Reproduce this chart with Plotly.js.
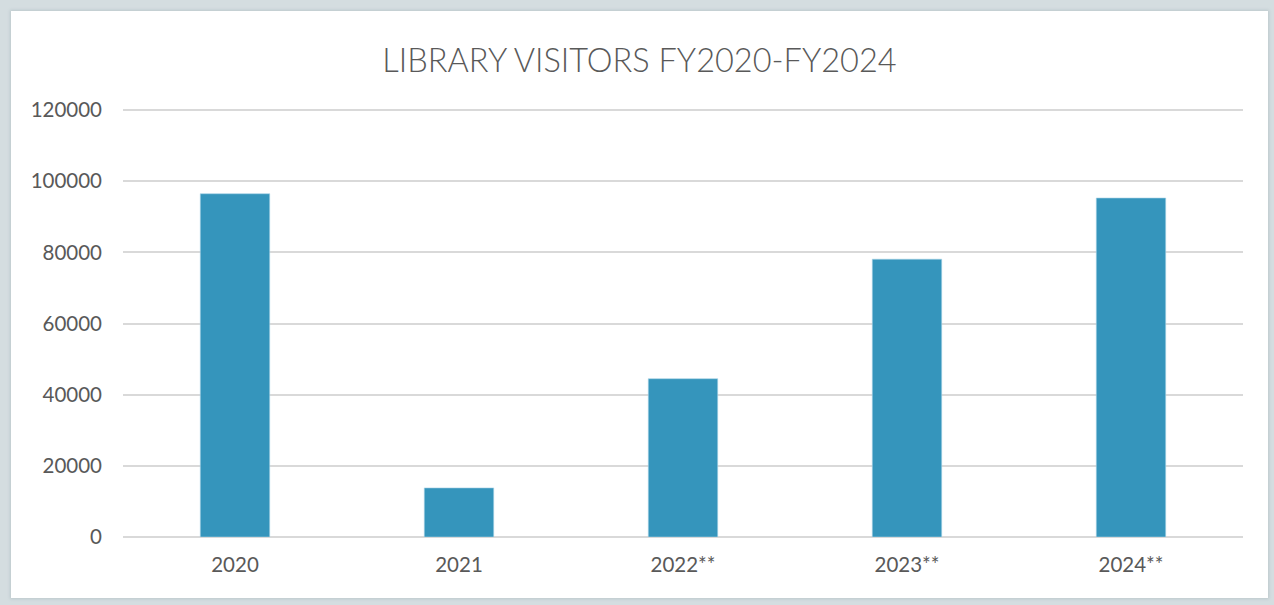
<!DOCTYPE html>
<html>
<head>
<meta charset="utf-8">
<script src="https://cdn.plot.ly/plotly-3.0.1.min.js"></script>
<style>
  body { margin: 0; }
  #frame {
    position: relative;
    width: 1274px;
    height: 605px;
    background: #d4dde0;
  }
  #chart {
    position: absolute;
    left: 11px;
    top: 11px;
    width: 1257px;
    height: 587px;
    background: #ffffff;
    box-shadow: 0 0 3px 1px #bcc8cc;
  }
</style>
</head>
<body>
<div id="frame"><div id="chart"></div></div>
<script>
var years = ['2020', '2021', '2022**', '2023**', '2024**'];
var visitors = [96500, 13800, 44500, 78100, 95300];
var yTicks = [0, 20000, 40000, 60000, 80000, 100000, 120000];

var Bars = {
    type: 'bar',
    x: years,
    y: visitors,
    marker: {
        color: '#3595bc',
        line: {color: '#a9d4e6', width: 0.6}
    },
    hoverinfo: 'x+y'
}

var layout = {
    width: 1257,
    height: 587,
    margin: {l: 112, r: 25, t: 97, b: 61},
    paper_bgcolor: '#ffffff',
    plot_bgcolor: '#ffffff',
    bargap: 0.69,
    showlegend: false,
    font: {family: 'Lato, "Open Sans", sans-serif', color: '#595959'},
    title: {
        text: 'LIBRARY VISITORS FY2020-FY2024',
        font: {size: 32.5, color: '#595959', weight: 300},
        x: 0.5,
        xanchor: 'center',
        y: 0.915,
        yanchor: 'middle'
    },
    xaxis: {
        type: 'category',
        showgrid: false,
        showline: false,
        zeroline: false,
        ticks: '',
        ticklabelstandoff: 13,
        tickfont: {size: 20.5, color: '#595959'}
    },
    yaxis: {
        range: [0, 120600],
        tickvals: yTicks,
        ticktext: yTicks.map(String),
        showgrid: true,
        gridcolor: '#d9d9d9',
        gridwidth: 1.5,
        zeroline: true,
        zerolinecolor: '#d9d9d9',
        zerolinewidth: 1.5,
        showline: false,
        ticks: '',
        ticklabelstandoff: 20,
        tickfont: {size: 20.5, color: '#595959'}
    }
}

Plotly.newPlot('chart', [Bars], layout, {displayModeBar: false});
</script>
</body>
</html>
